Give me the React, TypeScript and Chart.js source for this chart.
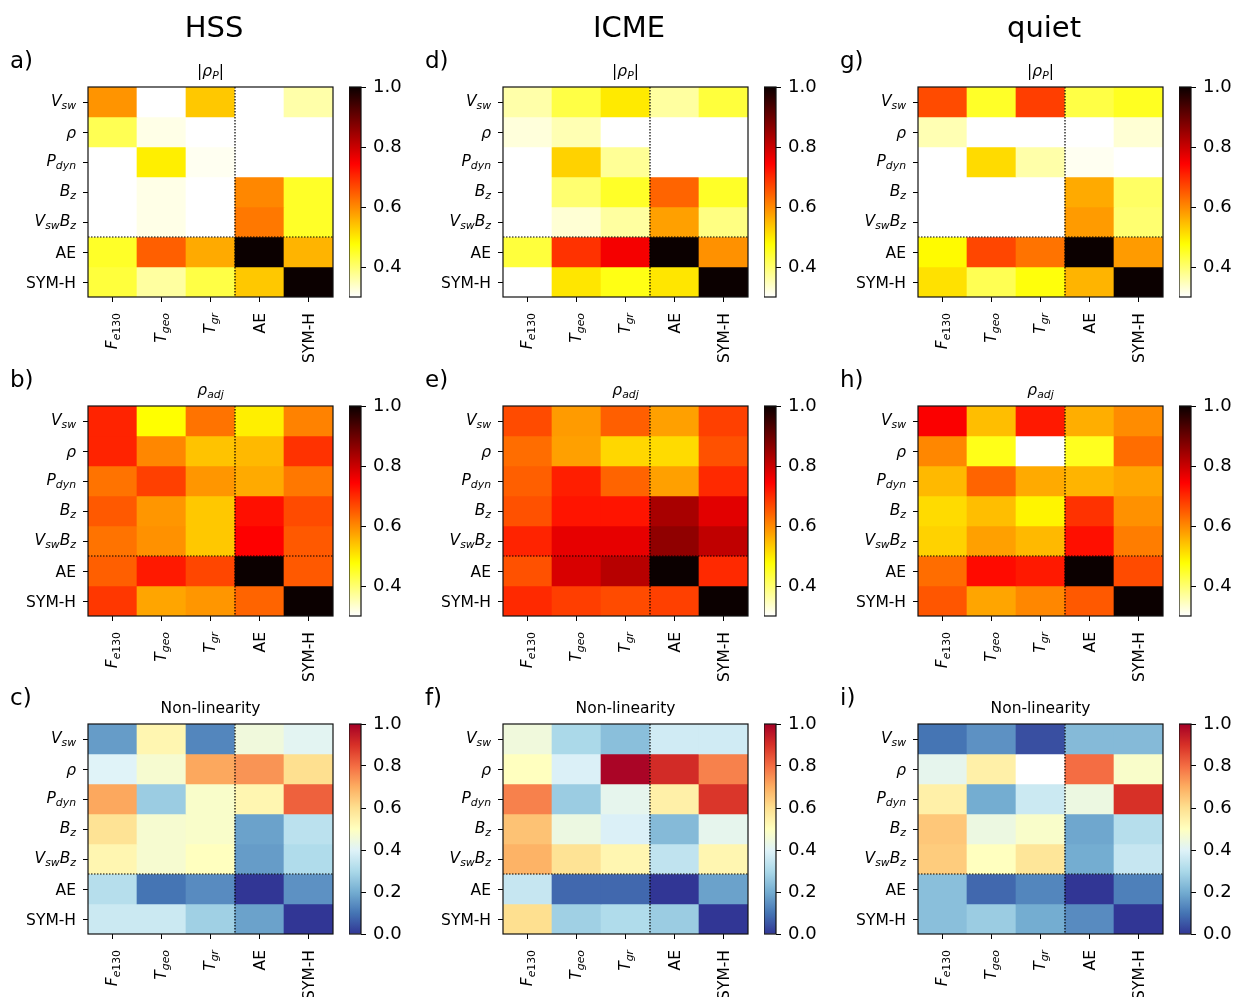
import React, { useEffect, useRef } from 'react';
import { Chart, registerables } from 'chart.js';

Chart.register(...registerables);

const FONT = '"DejaVu Sans", "Liberation Sans", sans-serif';

type Seg = { t: string; it?: boolean; sub?: boolean };

// ---- categories ----
const rowNames = ['V_sw', 'rho', 'P_dyn', 'B_z', 'V_sw B_z', 'AE', 'SYM-H'];
const colNames = ['F_e130', 'T_geo', 'T_gr', 'AE', 'SYM-H'];
const columnTitles = ['HSS', 'ICME', 'quiet'];
const panelLetters = [
  ['a)', 'b)', 'c)'],
  ['d)', 'e)', 'f)'],
  ['g)', 'h)', 'i)'],
];

const rowLabels: Seg[][] = [
  [{ t: 'V', it: true }, { t: 'sw', it: true, sub: true }],
  [{ t: 'ρ', it: true }],
  [{ t: 'P', it: true }, { t: 'dyn', it: true, sub: true }],
  [{ t: 'B', it: true }, { t: 'z', it: true, sub: true }],
  [{ t: 'V', it: true }, { t: 'sw', it: true, sub: true }, { t: 'B', it: true }, { t: 'z', it: true, sub: true }],
  [{ t: 'AE' }],
  [{ t: 'SYM-H' }],
];
const colLabels: Seg[][] = [
  [{ t: 'F', it: true }, { t: 'e', it: true, sub: true }, { t: '130', sub: true }],
  [{ t: 'T', it: true }, { t: 'geo', it: true, sub: true }],
  [{ t: 'T', it: true }, { t: 'gr', it: true, sub: true }],
  [{ t: 'AE' }],
  [{ t: 'SYM-H' }],
];
const pearsonTitle: Seg[] = [{ t: '|' }, { t: 'ρ', it: true }, { t: 'P', it: true, sub: true }, { t: '|' }];
const adjTitle: Seg[] = [{ t: 'ρ', it: true }, { t: 'adj', it: true, sub: true }];
const nonlinTitle: Seg[] = [{ t: 'Non-linearity' }];

// ---- colour bar ticks ----
const corrTicks = [0.4, 0.6, 0.8, 1.0];
const nonlinTicks = [0.0, 0.2, 0.4, 0.6, 0.8, 1.0];

// ---- values (rows: V_sw, rho, P_dyn, B_z, V_sw B_z, AE, SYM-H; cols: F_e130, T_geo, T_gr, AE, SYM-H) ----
const hssPearson = [
  [0.59, 0.22, 0.535, 0.2, 0.36],
  [0.42, 0.317, 0.25, 0.18, 0.21],
  [0.24, 0.494, 0.31, 0.15, 0.2],
  [0.2, 0.317, 0.26, 0.603, 0.45],
  [0.19, 0.317, 0.25, 0.619, 0.45],
  [0.45, 0.645, 0.567, 1.0, 0.556],
  [0.436, 0.366, 0.43, 0.535, 1.0],
];
const icmePearson = [
  [0.36, 0.43, 0.5, 0.366, 0.436],
  [0.325, 0.353, 0.21, 0.15, 0.18],
  [0.24, 0.525, 0.373, 0.12, 0.17],
  [0.22, 0.4, 0.45, 0.64, 0.45],
  [0.2, 0.33, 0.366, 0.577, 0.387],
  [0.436, 0.692, 0.755, 1.0, 0.593],
  [0.28, 0.504, 0.464, 0.504, 1.0],
];
const quietPearson = [
  [0.666, 0.45, 0.68, 0.43, 0.455],
  [0.353, 0.22, 0.15, 0.25, 0.33],
  [0.18, 0.515, 0.36, 0.31, 0.24],
  [0.12, 0.25, 0.2, 0.567, 0.408],
  [0.1, 0.26, 0.21, 0.582, 0.4],
  [0.482, 0.671, 0.624, 1.0, 0.582],
  [0.509, 0.42, 0.47, 0.556, 1.0],
];
const hssAdj = [
  [0.708, 0.478, 0.624, 0.494, 0.609],
  [0.708, 0.603, 0.541, 0.551, 0.692],
  [0.624, 0.677, 0.588, 0.567, 0.619],
  [0.651, 0.588, 0.535, 0.729, 0.666],
  [0.624, 0.593, 0.535, 0.745, 0.651],
  [0.645, 0.718, 0.671, 1.0, 0.651],
  [0.687, 0.572, 0.588, 0.64, 1.0],
];
const icmeAdj = [
  [0.666, 0.582, 0.645, 0.577, 0.677],
  [0.63, 0.577, 0.52, 0.515, 0.66],
  [0.645, 0.713, 0.64, 0.577, 0.702],
  [0.66, 0.724, 0.724, 0.835, 0.775],
  [0.708, 0.77, 0.77, 0.86, 0.81],
  [0.66, 0.785, 0.82, 1.0, 0.702],
  [0.702, 0.68, 0.666, 0.677, 1.0],
];
const quietAdj = [
  [0.749, 0.546, 0.718, 0.562, 0.598],
  [0.603, 0.461, null, 0.456, 0.63],
  [0.551, 0.64, 0.567, 0.556, 0.572],
  [0.515, 0.546, 0.488, 0.692, 0.593],
  [0.525, 0.577, 0.551, 0.729, 0.614],
  [0.63, 0.734, 0.718, 1.0, 0.666],
  [0.655, 0.572, 0.603, 0.651, 1.0],
];
const hssNonlin = [
  [0.17, 0.53, 0.13, 0.45, 0.41],
  [0.4, 0.47, 0.71, 0.74, 0.6],
  [0.71, 0.27, 0.48, 0.53, 0.82],
  [0.59, 0.47, 0.48, 0.18, 0.33],
  [0.53, 0.47, 0.5, 0.17, 0.31],
  [0.32, 0.1, 0.14, 0.0, 0.15],
  [0.36, 0.36, 0.28, 0.18, 0.0],
];
const icmeNonlin = [
  [0.45, 0.3, 0.24, 0.37, 0.37],
  [0.5, 0.39, 0.99, 0.91, 0.77],
  [0.77, 0.27, 0.42, 0.55, 0.89],
  [0.66, 0.44, 0.39, 0.23, 0.42],
  [0.69, 0.59, 0.53, 0.34, 0.53],
  [0.35, 0.08, 0.08, 0.0, 0.18],
  [0.6, 0.28, 0.31, 0.27, 0.0],
];
const quietNonlin = [
  [0.1, 0.15, 0.04, 0.23, 0.23],
  [0.42, 0.55, null, 0.8, 0.48],
  [0.55, 0.2, 0.36, 0.44, 0.9],
  [0.65, 0.44, 0.48, 0.19, 0.32],
  [0.64, 0.5, 0.58, 0.2, 0.35],
  [0.24, 0.08, 0.13, 0.0, 0.12],
  [0.24, 0.27, 0.2, 0.14, 0.0],
];

// ---- colour maps ----
const clamp01 = (v: number) => Math.max(0, Math.min(1, v));
const rgb = (r: number, g: number, b: number) =>
  `rgb(${Math.round(r * 255)},${Math.round(g * 255)},${Math.round(b * 255)})`;

function hotR(t: number): string {
  const s = 1 - clamp01(t);
  const k1 = 0.365079, k2 = 0.746032;
  const r = s < k1 ? 0.0416 + (1 - 0.0416) * (s / k1) : 1;
  const g = s < k1 ? 0 : s < k2 ? (s - k1) / (k2 - k1) : 1;
  const b = s < k2 ? 0 : (s - k2) / (1 - k2);
  return rgb(r, g, b);
}
const rdylbu = [
  [49, 54, 149], [69, 117, 180], [116, 173, 209], [171, 217, 233], [224, 243, 248],
  [255, 255, 191], [254, 224, 144], [253, 174, 97], [244, 109, 67], [215, 48, 39], [165, 0, 38],
];
function rdYlBuR(t: number): string {
  const x = clamp01(t) * 10;
  const i = Math.min(9, Math.floor(x));
  const f = x - i;
  const a = rdylbu[i], b = rdylbu[i + 1];
  return `rgb(${Math.round(a[0] + (b[0] - a[0]) * f)},${Math.round(a[1] + (b[1] - a[1]) * f)},${Math.round(a[2] + (b[2] - a[2]) * f)})`;
}

// ---- rich text helpers ----
const LABEL_SIZE = 15.5;
function segFont(s: Seg, size: number) {
  const sz = s.sub ? size * 0.7 : size;
  return `${s.it ? 'italic ' : ''}${sz}px ${FONT}`;
}
function richWidth(ctx: CanvasRenderingContext2D, segs: Seg[], size: number) {
  let w = 0;
  for (const s of segs) {
    ctx.font = segFont(s, size);
    w += ctx.measureText(s.t).width;
  }
  return w;
}
function drawRich(ctx: CanvasRenderingContext2D, segs: Seg[], x: number, y: number, align: 'left' | 'right' | 'center', size: number) {
  const w = richWidth(ctx, segs, size);
  let cx = align === 'right' ? x - w : align === 'center' ? x - w / 2 : x;
  ctx.textAlign = 'left';
  ctx.textBaseline = 'alphabetic';
  ctx.fillStyle = '#000';
  for (const s of segs) {
    ctx.font = segFont(s, size);
    ctx.fillText(s.t, cx, y + (s.sub ? size * 0.22 : 0));
    cx += ctx.measureText(s.t).width;
  }
}
const hasSub = (segs: Seg[]) => segs.some((s) => s.sub);

// ---- layout ----
const HEAT_W = 245;
const HEAT_H = 210;
const heatLefts = [88, 503, 918];
const heatTops = [87, 406, 724];
const AXIS_W = 88;
const TOP_PAD = 47;
const XAXIS_H = 78;

function makeDecor(title: Seg[]) {
  return {
    id: 'heatDecor',
    afterDraw(chart: any) {
      const { ctx, chartArea: a, scales } = chart;
      const xs = scales.x, ys = scales.y;
      ctx.save();
      // dotted separators
      ctx.strokeStyle = '#000';
      ctx.lineWidth = 1.2;
      ctx.setLineDash([1.5, 1.5]);
      const xm = xs.getPixelForValue(2.5);
      const ym = ys.getPixelForValue(4.5);
      ctx.beginPath();
      ctx.moveTo(xm, a.top);
      ctx.lineTo(xm, a.bottom);
      ctx.moveTo(a.left, ym);
      ctx.lineTo(a.right, ym);
      ctx.stroke();
      ctx.setLineDash([]);
      // frame
      ctx.strokeStyle = '#111';
      ctx.lineWidth = 1.2;
      ctx.strokeRect(a.left, a.top, a.right - a.left, a.bottom - a.top);
      // row labels
      rowLabels.forEach((segs, i) => {
        const py = ys.getPixelForValue(i);
        const base = py + LABEL_SIZE * 0.36 - (hasSub(segs) ? 1.5 : 0);
        drawRich(ctx, segs, a.left - 12, base, 'right', LABEL_SIZE);
      });
      // column labels, rotated
      colLabels.forEach((segs, i) => {
        const px = xs.getPixelForValue(i);
        ctx.save();
        ctx.translate(px, a.bottom + 5 + 11);
        ctx.rotate(-Math.PI / 2);
        const off = LABEL_SIZE * 0.36 - (hasSub(segs) ? 1.5 : 0);
        drawRich(ctx, segs, 0, off, 'right', LABEL_SIZE);
        ctx.restore();
      });
      // title
      drawRich(ctx, title, (a.left + a.right) / 2, a.top - 11, 'center', LABEL_SIZE);
      ctx.restore();
    },
  };
}

type MapFn = (t: number) => string;

function Heatmap(props: { col: number; row: number; values: (number | null)[][]; cmap: MapFn; vmin: number; vmax: number; title: Seg[] }) {
  const { col, row, values, cmap, vmin, vmax, title } = props;
  const ref = useRef<HTMLCanvasElement>(null);
  const width = AXIS_W + HEAT_W + 7;
  const height = TOP_PAD + HEAT_H + XAXIS_H;
  useEffect(() => {
    const colorOf = (v: number | null) => (v == null ? '#ffffff' : cmap((v - vmin) / (vmax - vmin)));
    const datasets = values.map((r, ri) => ({
      label: rowNames[ri],
      data: r.map(() => [ri - 0.5, ri + 0.5]),
      backgroundColor: r.map(colorOf),
      borderWidth: 0,
      barPercentage: 1,
      categoryPercentage: 1,
      grouped: false,
    }));
    const tickGrid = { offset: false, drawOnChartArea: false, drawTicks: true, tickLength: 5, color: '#000', lineWidth: 1 };
    const chart = new Chart(ref.current as HTMLCanvasElement, {
      type: 'bar',
      data: { labels: colNames, datasets: datasets as any },
      options: {
        animation: false,
        responsive: false,
        maintainAspectRatio: false,
        events: [],
        layout: { padding: { top: TOP_PAD, right: 7, bottom: 0, left: 0 } },
        plugins: { legend: { display: false }, tooltip: { enabled: false }, title: { display: false } },
        scales: {
          x: {
            type: 'category',
            offset: true,
            grid: tickGrid,
            border: { display: false },
            ticks: { display: false },
            afterFit: (s: any) => { s.height = XAXIS_H; },
          },
          y: {
            type: 'linear',
            min: -0.5,
            max: rowNames.length - 0.5,
            reverse: true,
            grid: tickGrid,
            border: { display: false },
            ticks: { display: false },
            afterBuildTicks: (s: any) => { s.ticks = rowNames.map((_, i) => ({ value: i })); },
            afterFit: (s: any) => { s.width = AXIS_W; },
          },
        },
      } as any,
      plugins: [makeDecor(title)],
    });
    return () => chart.destroy();
  }, []);
  return (
    <canvas
      ref={ref}
      width={width}
      height={height}
      style={{ position: 'absolute', left: heatLefts[col] - AXIS_W, top: heatTops[row] - TOP_PAD, width, height }}
    />
  );
}

function ColorBar(props: { col: number; row: number; cmap: MapFn; vmin: number; vmax: number; ticks: number[] }) {
  const { col, row, cmap, vmin, vmax, ticks } = props;
  const ref = useRef<HTMLCanvasElement>(null);
  const barW = 12;
  const axisW = 52;
  const pad = 22;
  const width = barW + axisW;
  const height = HEAT_H + 2 * pad;
  useEffect(() => {
    const chart = new Chart(ref.current as HTMLCanvasElement, {
      type: 'bar',
      data: {
        labels: ['cb'],
        datasets: [
          {
            data: [[vmin, vmax]],
            borderWidth: 0,
            barPercentage: 1,
            categoryPercentage: 1,
            backgroundColor: (c: any) => {
              const area = c.chart.chartArea;
              if (!area) return '#fff';
              const g = c.chart.ctx.createLinearGradient(0, area.bottom, 0, area.top);
              const N = 60;
              for (let i = 0; i <= N; i++) g.addColorStop(i / N, cmap(i / N));
              return g;
            },
          } as any,
        ],
      },
      options: {
        animation: false,
        responsive: false,
        maintainAspectRatio: false,
        events: [],
        layout: { padding: { top: pad, bottom: pad, left: 0, right: 0 } },
        plugins: { legend: { display: false }, tooltip: { enabled: false } },
        scales: {
          x: { display: false },
          y: {
            type: 'linear',
            position: 'right',
            min: vmin,
            max: vmax,
            grid: { drawOnChartArea: false, drawTicks: true, tickLength: 5, color: '#000', lineWidth: 1 },
            border: { display: false },
            afterBuildTicks: (s: any) => { s.ticks = ticks.map((v) => ({ value: v })); },
            afterFit: (s: any) => { s.width = axisW; },
            ticks: {
              color: '#000',
              padding: 7,
              font: { family: FONT, size: 18 },
              callback: (v: any) => Number(v).toFixed(1),
            },
          },
        },
      } as any,
      plugins: [
        {
          id: 'cbFrame',
          afterDraw(chart: any) {
            const { ctx, chartArea: a } = chart;
            ctx.save();
            ctx.strokeStyle = '#111';
            ctx.lineWidth = 1.2;
            ctx.strokeRect(a.left, a.top, a.right - a.left, a.bottom - a.top);
            ctx.restore();
          },
        },
      ],
    });
    return () => chart.destroy();
  }, []);
  return (
    <canvas
      ref={ref}
      width={width}
      height={height}
      style={{ position: 'absolute', left: heatLefts[col] + 261, top: heatTops[row] - pad, width, height }}
    />
  );
}

const panelValues = [
  [hssPearson, hssAdj, hssNonlin],
  [icmePearson, icmeAdj, icmeNonlin],
  [quietPearson, quietAdj, quietNonlin],
];
const rowTitles = [pearsonTitle, adjTitle, nonlinTitle];

export default function App() {
  const panels: React.ReactNode[] = [];
  for (let c = 0; c < 3; c++) {
    for (let r = 0; r < 3; r++) {
      const isNl = r === 2;
      const cmap = isNl ? rdYlBuR : hotR;
      const vmin = isNl ? 0 : 0.3;
      const vmax = 1;
      panels.push(
        <Heatmap key={`h${c}${r}`} col={c} row={r} values={panelValues[c][r]} cmap={cmap} vmin={vmin} vmax={vmax} title={rowTitles[r]} />
      );
      panels.push(
        <ColorBar key={`c${c}${r}`} col={c} row={r} cmap={cmap} vmin={vmin} vmax={vmax} ticks={isNl ? nonlinTicks : corrTicks} />
      );
      panels.push(
        <div
          key={`l${c}${r}`}
          style={{
            position: 'absolute',
            left: heatLefts[c] - 78,
            top: heatTops[r] - 38.5,
            fontFamily: FONT,
            fontSize: 23,
            lineHeight: '23px',
            color: '#000',
            whiteSpace: 'nowrap',
          }}
        >
          {panelLetters[c][r]}
        </div>
      );
    }
    panels.push(
      <div
        key={`t${c}`}
        style={{
          position: 'absolute',
          left: heatLefts[c] + 126 - 100,
          width: 200,
          top: 12.5,
          textAlign: 'center',
          fontFamily: FONT,
          fontSize: 29,
          lineHeight: '29px',
          color: '#000',
        }}
      >
        {columnTitles[c]}
      </div>
    );
  }
  return (
    <div style={{ position: 'absolute', left: 0, top: 0, width: 1235, height: 997, background: '#fff', overflow: 'hidden' }}>
      {panels}
    </div>
  );
}
